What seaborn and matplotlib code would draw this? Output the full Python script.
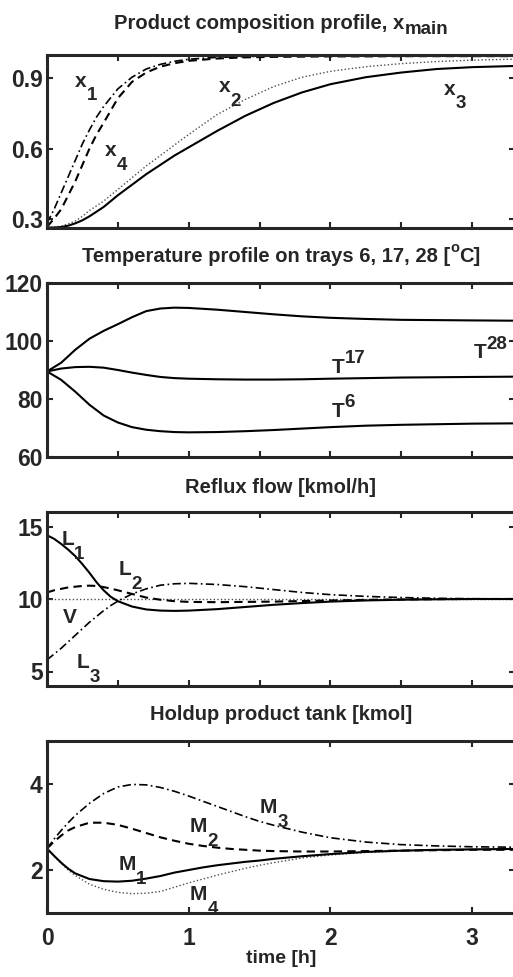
import matplotlib
matplotlib.use("Agg")
import matplotlib.pyplot as plt
from matplotlib import font_manager
import seaborn as sns

# ---- panel 1: product composition ----
t_comp = [0, 0.05, 0.1, 0.15, 0.2, 0.25, 0.3, 0.35, 0.4, 0.5, 0.6, 0.7, 0.8,
          0.9, 1.0, 1.2, 1.4, 1.6, 1.8, 2.0, 2.25, 2.5, 2.75, 3.0, 3.3]
x1 = [0.28, 0.34, 0.41, 0.48, 0.55, 0.62, 0.68, 0.735, 0.78, 0.855, 0.905, 0.94, 0.96,
      0.973, 0.982, 0.99, 0.993, 0.995, 0.996, 0.997, 0.997, 0.998, 0.998, 0.998, 0.998]
x4 = [0.265, 0.30, 0.34, 0.40, 0.46, 0.53, 0.60, 0.66, 0.71, 0.815, 0.885, 0.925, 0.95,
      0.965, 0.975, 0.985, 0.99, 0.992, 0.993, 0.994, 0.994, 0.995, 0.995, 0.995, 0.995]
x2 = [0.262, 0.263, 0.268, 0.278, 0.29, 0.31, 0.335, 0.355, 0.375, 0.425, 0.475, 0.525, 0.57,
      0.615, 0.66, 0.745, 0.81, 0.865, 0.905, 0.93, 0.95, 0.963, 0.972, 0.978, 0.982]
x3 = [0.262, 0.262, 0.264, 0.27, 0.28, 0.293, 0.31, 0.33, 0.35, 0.40, 0.445, 0.49, 0.53,
      0.57, 0.605, 0.675, 0.74, 0.795, 0.84, 0.875, 0.905, 0.925, 0.94, 0.948, 0.953]

# ---- panel 2: tray temperatures ----
t_temp = [0, 0.1, 0.2, 0.3, 0.4, 0.5, 0.6, 0.7, 0.8, 0.9, 1.0, 1.2, 1.4, 1.6,
          1.8, 2.0, 2.25, 2.5, 2.75, 3.0, 3.3]
T28 = [89.5, 92.5, 97.0, 100.8, 103.5, 105.8, 108.2, 110.3, 111.2, 111.5, 111.4, 110.8,
       110.0, 109.2, 108.5, 108.0, 107.6, 107.3, 107.2, 107.1, 107.0]
T17 = [89.5, 90.5, 91.0, 91.1, 90.8, 90.0, 89.1, 88.3, 87.6, 87.2, 87.0, 86.8,
       86.7, 86.7, 86.8, 87.0, 87.2, 87.4, 87.5, 87.6, 87.7]
T6 = [89.5, 86.6, 82.5, 78.0, 74.3, 71.9, 70.3, 69.4, 68.9, 68.6, 68.5, 68.6,
      68.9, 69.3, 69.8, 70.3, 70.8, 71.1, 71.3, 71.5, 71.6]

# ---- panel 3: reflux flows ----
t_flow = [0, 0.05, 0.1, 0.15, 0.2, 0.25, 0.3, 0.35, 0.4, 0.45, 0.5, 0.6, 0.7, 0.8,
          0.9, 1.0, 1.2, 1.4, 1.6, 1.8, 2.0, 2.25, 2.5, 2.75, 3.0, 3.3]
L1 = [14.4, 14.15, 13.8, 13.4, 12.95, 12.4, 11.8, 11.15, 10.6, 10.15, 9.85, 9.48, 9.28,
      9.2, 9.18, 9.2, 9.3, 9.45, 9.6, 9.72, 9.82, 9.9, 9.95, 9.98, 10.0, 10.0]
L2 = [10.45, 10.6, 10.7, 10.8, 10.85, 10.9, 10.92, 10.9, 10.82, 10.72, 10.6, 10.35, 10.1,
      9.95, 9.85, 9.8, 9.78, 9.8, 9.82, 9.86, 9.9, 9.94, 9.97, 9.99, 10.0, 10.0]
L3 = [5.8, 6.2, 6.6, 7.05, 7.5, 7.95, 8.4, 8.8, 9.2, 9.55, 9.85, 10.35, 10.7, 10.95,
      11.05, 11.08, 11.0, 10.85, 10.65, 10.45, 10.3, 10.18, 10.1, 10.05, 10.02, 10.0]
t_vap = [0, 3.3]
V = [10.0, 10.0]

# ---- panel 4: product tank holdups ----
t_hold = [0, 0.05, 0.1, 0.15, 0.2, 0.3, 0.4, 0.5, 0.6, 0.7, 0.8, 0.9, 1.0, 1.1, 1.2,
          1.3, 1.4, 1.5, 1.6, 1.8, 2.0, 2.25, 2.5, 2.75, 3.0, 3.3]
M3 = [2.5, 2.72, 2.92, 3.1, 3.27, 3.55, 3.78, 3.93, 3.99, 3.98, 3.92, 3.83, 3.72, 3.6,
      3.48, 3.36, 3.24, 3.13, 3.04, 2.88, 2.75, 2.65, 2.59, 2.56, 2.54, 2.53]
M2 = [2.5, 2.66, 2.8, 2.92, 3.0, 3.1, 3.1, 3.05, 2.96, 2.86, 2.76, 2.68, 2.61, 2.56,
      2.52, 2.49, 2.47, 2.45, 2.44, 2.43, 2.43, 2.44, 2.45, 2.46, 2.47, 2.47]
M1 = [2.5, 2.33, 2.17, 2.03, 1.92, 1.79, 1.74, 1.73, 1.75, 1.8, 1.86, 1.94, 2.0, 2.06,
      2.11, 2.15, 2.19, 2.22, 2.26, 2.32, 2.37, 2.42, 2.45, 2.47, 2.48, 2.49]
M4 = [2.5, 2.32, 2.15, 2.0, 1.87, 1.67, 1.55, 1.48, 1.45, 1.46, 1.5, 1.6, 1.7, 1.79,
      1.88, 1.96, 2.04, 2.11, 2.17, 2.28, 2.35, 2.41, 2.44, 2.46, 2.47, 2.48]

sns.set_style("ticks")
names = {f.name for f in font_manager.fontManager.ttflist}
fam = "Liberation Sans Narrow" if "Liberation Sans Narrow" in names else "Liberation Sans"
plt.rcParams["font.family"] = [fam, "DejaVu Sans"]
plt.rcParams["font.weight"] = "bold"

SOLID = "-"
DASH = (0, (4, 2.5))
DASHDOT = (0, (5, 2, 1, 2))
DOT = (0, (1, 1.6))

fig = plt.figure(figsize=(5.13, 9.77), dpi=100)
renderer = fig.canvas.get_renderer()
L, W = 47 / 513, 468 / 513
boxes = [(55, 228), (283, 457), (512, 686), (741, 913)]
axes = [fig.add_axes([L, 1 - b / 977, W, (b - t) / 977]) for t, b in boxes]


def draw(ax, t, y, ls, lw=1.5, color="k"):
    sns.lineplot(x=t, y=y, ax=ax, color=color, linestyle=ls, linewidth=lw)


# text with matlab-like sub/superscripts: parts = [(text, size, baseline shift pt)]
def rich(ax, xy, parts, coords="data", center=False, pad=0):
    texts, widths = [], []
    for s, size, dy in parts:
        t = ax.annotate(s, xy, xycoords=coords, textcoords="offset points",
                        xytext=(0, pad + dy), fontsize=size, fontweight="bold",
                        ha="left", va="baseline", annotation_clip=False)
        texts.append(t)
        widths.append(t.get_window_extent(renderer).width * 72 / fig.dpi)
    x0 = -sum(widths) / 2 if center else 0
    for t, w, (s, size, dy) in zip(texts, widths, parts):
        t.set_position((x0, pad + dy))
        x0 += w


def sub(ax, x, y, a, b):
    rich(ax, (x, y), [(a, 15, 0), (b, 13.5, -10)])


def sup(ax, x, y, a, b):
    rich(ax, (x, y), [(a, 15, 0), (b, 13.5, 7)])


def title(ax, parts, pad):
    rich(ax, (0.5, 1.0), parts, coords="axes fraction", center=True, pad=pad)


ax = axes[0]
draw(ax, t_comp, x1, DASHDOT, 1.2)
draw(ax, t_comp, x4, DASH)
draw(ax, t_comp, x2, DOT, 1.0, "0.3")
draw(ax, t_comp, x3, SOLID)
ax.set_ylim(0.26, 1.0)
ax.set_yticks([0.3, 0.6, 0.9])
ax.set_yticklabels(["0.3", "0.6", "0.9"])

ax = axes[1]
draw(ax, t_temp, T28, SOLID)
draw(ax, t_temp, T17, SOLID)
draw(ax, t_temp, T6, SOLID)
ax.set_ylim(60, 120)
ax.set_yticks([60, 80, 100, 120])

ax = axes[2]
draw(ax, t_vap, V, DOT, 1.0, "0.3")
draw(ax, t_flow, L3, DASHDOT, 1.2)
draw(ax, t_flow, L2, DASH)
draw(ax, t_flow, L1, SOLID)
ax.set_ylim(4, 16)
ax.set_yticks([5, 10, 15])

ax = axes[3]
draw(ax, t_hold, M3, DASHDOT, 1.2)
draw(ax, t_hold, M2, DASH)
draw(ax, t_hold, M4, DOT, 1.0, "0.3")
draw(ax, t_hold, M1, SOLID)
ax.set_ylim(1, 5)
ax.set_yticks([2, 4])

for i, ax in enumerate(axes):
    ax.set_xlim(0, 3.303)
    ax.set_xlabel("")
    ax.set_ylabel("")
    for s in ax.spines.values():
        s.set_visible(True)
        s.set_linewidth(2.2)
    ax.tick_params(direction="in", length=4, width=1.5, top=True, right=True,
                   labelsize=16.5, pad=3)
    if i < 3:
        ax.set_xticks([0, 0.5, 1.0, 1.5, 2.0, 2.5, 3.0])
        ax.set_xticklabels([])
    else:
        ax.set_xticks([0, 1, 2, 3])
        ax.set_xticklabels(["0", "1", "2", "3"])
        ax.tick_params(axis="x", pad=10)
        ax.set_xlabel("time [h]", fontsize=14, fontweight="bold", labelpad=0)

# curve labels
sub(axes[0], 0.198, 0.865, "x", "1")
sub(axes[0], 0.41, 0.567, "x", "4")
sub(axes[0], 1.21, 0.841, "x", "2")
sub(axes[0], 2.80, 0.831, "x", "3")
sup(axes[1], 2.01, 88.9, "T", "17")
sup(axes[1], 2.01, 73.9, "T", "6")
sup(axes[1], 3.01, 94.0, "T", "28")
sub(axes[2], 0.103, 13.72, "L", "1")
sub(axes[2], 0.503, 11.66, "L", "2")
sub(axes[2], 0.115, 8.32, "V", "")
sub(axes[2], 0.21, 5.22, "L", "3")
sub(axes[3], 0.503, 2.0, "M", "1")
sub(axes[3], 1.01, 2.89, "M", "2")
sub(axes[3], 1.503, 3.32, "M", "3")
sub(axes[3], 1.01, 1.30, "M", "4")

# titles
title(axes[0], [("Product composition profile, x", 14.5, 0), ("main", 13.5, -4)], 19)
title(axes[1], [("Temperature profile on trays 6, 17, 28 [", 14.5, 0), ("o", 10.5, 7),
                ("C]", 14.5, 0)], 15)
title(axes[2], [("Reflux flow [kmol/h]", 14.5, 0)], 14)
title(axes[3], [("Holdup product tank [kmol]", 14.5, 0)], 15)

fig.savefig("out.png", dpi=100)
